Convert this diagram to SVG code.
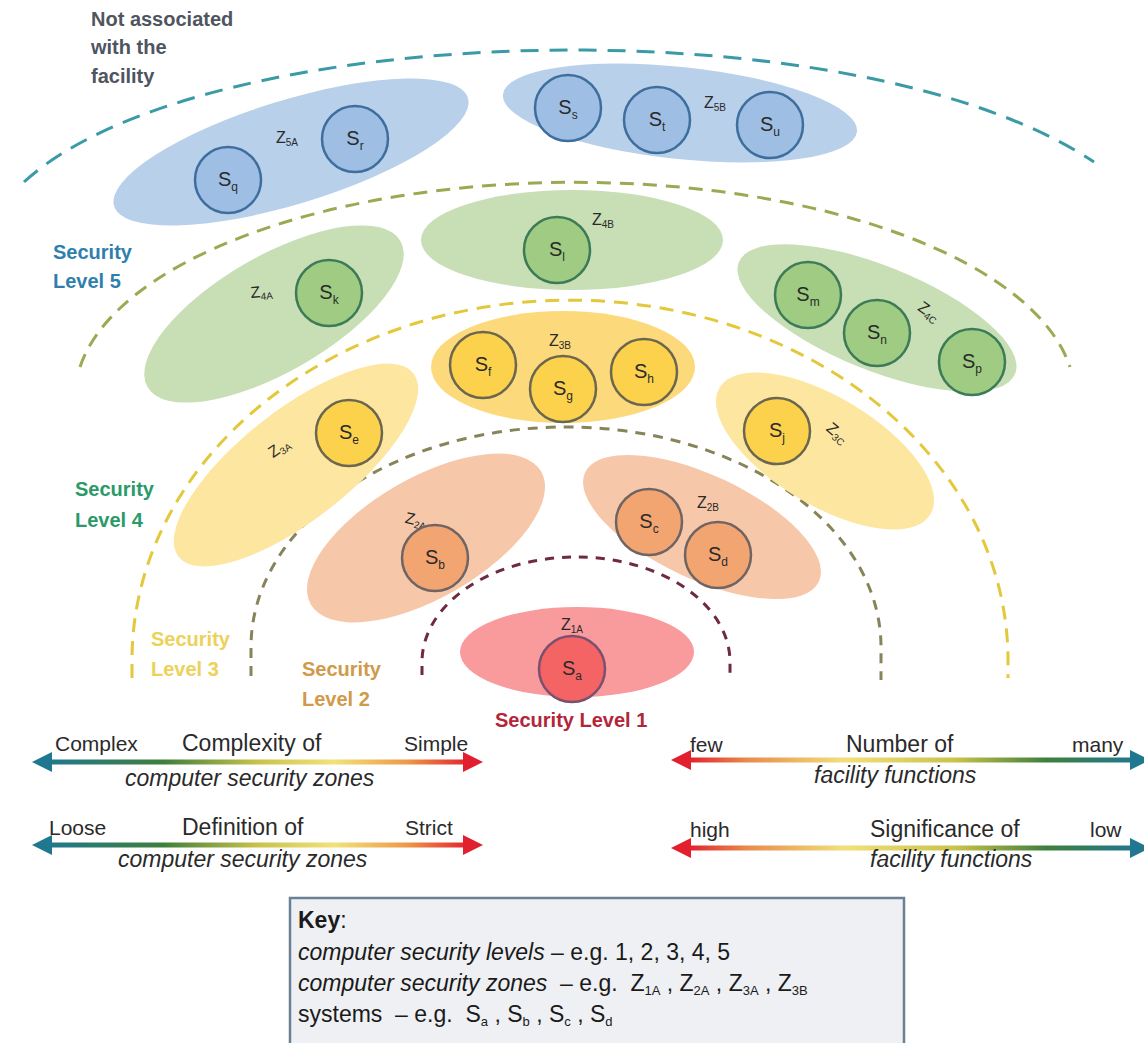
<svg xmlns="http://www.w3.org/2000/svg" width="1144" height="1043" viewBox="0 0 1144 1043">
<defs>
  <linearGradient id="gL" gradientUnits="userSpaceOnUse" x1="45" y1="0" x2="470" y2="0">
    <stop offset="0" stop-color="#1f7890"/>
    <stop offset="0.28" stop-color="#3f7f3c"/>
    <stop offset="0.5" stop-color="#c9c24a"/>
    <stop offset="0.68" stop-color="#f2e27a"/>
    <stop offset="0.85" stop-color="#ee9a48"/>
    <stop offset="1" stop-color="#e21f2e"/>
  </linearGradient>
  <linearGradient id="gR" gradientUnits="userSpaceOnUse" x1="688" y1="0" x2="1135" y2="0">
    <stop offset="0" stop-color="#e21f2e"/>
    <stop offset="0.13" stop-color="#e88a4a"/>
    <stop offset="0.35" stop-color="#f2e07a"/>
    <stop offset="0.6" stop-color="#c9c24a"/>
    <stop offset="0.8" stop-color="#3f7f3c"/>
    <stop offset="1" stop-color="#1f7890"/>
  </linearGradient>
</defs>
<style>
  text{font-family:"Liberation Sans",Arial,sans-serif;}
  .zb{fill:#b8d0ea} .cb{fill:#9ebfe3;stroke:#3e6e9e;stroke-width:2.5}
  .zg{fill:#c8deb5} .cg{fill:#9fcc82;stroke:#3c7a58;stroke-width:2.5}
  .zy{fill:#fde6a0} .zy2{fill:#fcd97a} .cy{fill:#fcd24c;stroke:#6b6650;stroke-width:2.5}
  .zo{fill:#f6c8a9} .co{fill:#f2a571;stroke:#6e6464;stroke-width:2.5}
  .zr{fill:#f99a9c} .cr{fill:#f46464;stroke:#7a5070;stroke-width:2.5}
  .s{font-size:20px;fill:#2a2a2a;text-anchor:middle}
  .sub{font-size:12px}
  .z{font-size:16px;fill:#2a2a2a;text-anchor:middle}
  .zs{font-size:10px}
  .arc{fill:none;stroke-width:3}
  .lvl{font-weight:bold;font-size:20px}
  .end{font-size:21px;fill:#2a2a2a}
  .ttl{font-size:23px;fill:#2a2a2a}
  .it{font-size:23px;fill:#2a2a2a;font-style:italic}
  .key{font-size:23px;fill:#1a1a1a}
  .ksub{font-size:13px}
</style>
<rect width="1144" height="1043" fill="#ffffff"/>

<!-- boundaries (security level arcs) -->
<g id="boundaries">
  <path class="arc" stroke="#3a9aa6" stroke-dasharray="18 11" d="M 24 182 C 200 20, 850 0, 1094 162"/>
  <path class="arc" stroke="#9aaa52" stroke-width="2.5" stroke-dasharray="14 9" d="M 80 367 A 500 215 0 0 1 1070 367"/>
  <path class="arc" stroke="#e3c83c" stroke-width="2.5" stroke-dasharray="14 9" d="M 132 678 L 132 660 A 438 360 0 0 1 1008 660 L 1008 678"/>
  <path class="arc" stroke="#87845a" stroke-dasharray="10 8" d="M 251 676 L 251 647 A 315 220 0 0 1 881 647 L 881 680"/>
  <path class="arc" stroke="#6f2a40" stroke-dasharray="9 8" d="M 422 675 L 422 662 A 154 105 0 0 1 730 662 L 730 675"/>
</g>

<!-- level labels -->
<g id="level-labels" class="lvl">
  <text x="91" y="26" fill="#4f5560">Not associated</text>
  <text x="91" y="54" fill="#4f5560">with the</text>
  <text x="91" y="83" fill="#4f5560">facility</text>
  <text x="53" y="259" fill="#2f7fae">Security</text>
  <text x="53" y="288" fill="#2f7fae">Level 5</text>
  <text x="75" y="496" fill="#2a9a6a">Security</text>
  <text x="75" y="527" fill="#2a9a6a">Level 4</text>
  <text x="151" y="646" fill="#ecd15a">Security</text>
  <text x="151" y="676" fill="#ecd15a">Level 3</text>
  <text x="302" y="676" fill="#d09a4a">Security</text>
  <text x="302" y="706" fill="#d09a4a">Level 2</text>
  <text x="495" y="727" fill="#b3263a">Security Level 1</text>
</g>

<!-- Level 5 zones -->
<g id="Z5A">
  <ellipse class="zb" cx="291" cy="152" rx="185" ry="52" transform="rotate(-17 291 152)"/>
  <text class="z" x="287" y="143">Z<tspan class="zs" dy="3">5A</tspan></text>
  <g id="Sq"><circle class="cb" cx="228" cy="180" r="33"/><text class="s" x="228" y="186">S<tspan class="sub" dy="5">q</tspan></text></g>
  <g id="Sr"><circle class="cb" cx="355" cy="139" r="33"/><text class="s" x="355" y="145">S<tspan class="sub" dy="5">r</tspan></text></g>
</g>
<g id="Z5B">
  <ellipse class="zb" cx="680" cy="113" rx="178" ry="46" transform="rotate(6 680 113)"/>
  <text class="z" x="715" y="108">Z<tspan class="zs" dy="3">5B</tspan></text>
  <g id="Ss"><circle class="cb" cx="568" cy="108" r="33"/><text class="s" x="568" y="114">S<tspan class="sub" dy="5">s</tspan></text></g>
  <g id="St"><circle class="cb" cx="657" cy="120" r="33"/><text class="s" x="657" y="126">S<tspan class="sub" dy="5">t</tspan></text></g>
  <g id="Su"><circle class="cb" cx="770" cy="125" r="33"/><text class="s" x="770" y="131">S<tspan class="sub" dy="5">u</tspan></text></g>
</g>

<!-- Level 4 zones -->
<g id="Z4A">
  <ellipse class="zg" cx="274" cy="314" rx="146" ry="58" transform="rotate(-30 274 314)"/>
  <text class="z" x="262" y="297" transform="rotate(-5 262 297)">Z<tspan class="zs" dy="3">4A</tspan></text>
  <g id="Sk"><circle class="cg" cx="329" cy="293" r="33"/><text class="s" x="329" y="299">S<tspan class="sub" dy="5">k</tspan></text></g>
</g>
<g id="Z4B">
  <ellipse class="zg" cx="572" cy="240" rx="151" ry="50"/>
  <text class="z" x="603" y="225">Z<tspan class="zs" dy="3">4B</tspan></text>
  <g id="Sl"><circle class="cg" cx="557" cy="250" r="33"/><text class="s" x="557" y="256">S<tspan class="sub" dy="5">l</tspan></text></g>
</g>
<g id="Z4C">
  <ellipse class="zg" cx="877" cy="318" rx="149" ry="52" transform="rotate(22 877 318)"/>
  <text class="z" x="926" y="316" transform="rotate(35 926 316)">Z<tspan class="zs" dy="3">4C</tspan></text>
  <g id="Sm"><circle class="cg" cx="808" cy="295" r="33"/><text class="s" x="808" y="301">S<tspan class="sub" dy="5">m</tspan></text></g>
  <g id="Sn"><circle class="cg" cx="877" cy="333" r="33"/><text class="s" x="877" y="339">S<tspan class="sub" dy="5">n</tspan></text></g>
  <g id="Sp"><circle class="cg" cx="972" cy="362" r="33"/><text class="s" x="972" y="368">S<tspan class="sub" dy="5">p</tspan></text></g>
</g>

<!-- Level 3 zones -->
<g id="Z3A">
  <ellipse class="zy" cx="296" cy="465" rx="149" ry="55" transform="rotate(-38 296 465)"/>
  <text class="z" x="282" y="452" transform="rotate(-35 282 452)">Z<tspan class="zs" dy="3">3A</tspan></text>
  <g id="Se"><circle class="cy" cx="349" cy="433" r="33"/><text class="s" x="349" y="439">S<tspan class="sub" dy="5">e</tspan></text></g>
</g>
<g id="Z3B">
  <ellipse class="zy2" cx="563" cy="367" rx="132" ry="56"/>
  <text class="z" x="560" y="346">Z<tspan class="zs" dy="3">3B</tspan></text>
  <g id="Sf"><circle class="cy" cx="483" cy="365" r="33"/><text class="s" x="483" y="371">S<tspan class="sub" dy="5">f</tspan></text></g>
  <g id="Sg"><circle class="cy" cx="563" cy="389" r="33"/><text class="s" x="563" y="395">S<tspan class="sub" dy="5">g</tspan></text></g>
  <g id="Sh"><circle class="cy" cx="644" cy="372" r="33"/><text class="s" x="644" y="378">S<tspan class="sub" dy="5">h</tspan></text></g>
</g>
<g id="Z3C">
  <ellipse class="zy" cx="825" cy="451" rx="123" ry="54" transform="rotate(31 825 451)"/>
  <text class="z" x="834" y="437" transform="rotate(40 834 437)">Z<tspan class="zs" dy="3">3C</tspan></text>
  <g id="Sj"><circle class="cy" cx="777" cy="431" r="33"/><text class="s" x="777" y="437">S<tspan class="sub" dy="5">j</tspan></text></g>
</g>

<!-- Level 2 zones -->
<g id="Z2A">
  <ellipse class="zo" cx="426" cy="538" rx="133" ry="60" transform="rotate(-30 426 538)"/>
  <text class="z" x="415" y="525" transform="rotate(12 415 525)">Z<tspan class="zs" dy="3">2A</tspan></text>
  <g id="Sb"><circle class="co" cx="435" cy="558" r="33"/><text class="s" x="435" y="564">S<tspan class="sub" dy="5">b</tspan></text></g>
</g>
<g id="Z2B">
  <ellipse class="zo" cx="702" cy="527" rx="129" ry="52" transform="rotate(25 702 527)"/>
  <text class="z" x="708" y="508">Z<tspan class="zs" dy="3">2B</tspan></text>
  <g id="Sc"><circle class="co" cx="649" cy="522" r="33"/><text class="s" x="649" y="528">S<tspan class="sub" dy="5">c</tspan></text></g>
  <g id="Sd"><circle class="co" cx="718" cy="555" r="33"/><text class="s" x="718" y="561">S<tspan class="sub" dy="5">d</tspan></text></g>
</g>

<!-- Level 1 zone -->
<g id="Z1A">
  <ellipse class="zr" cx="577" cy="652" rx="117" ry="45"/>
  <text class="z" x="572" y="630">Z<tspan class="zs" dy="3">1A</tspan></text>
  <g id="Sa"><circle class="cr" cx="572" cy="669" r="33"/><text class="s" x="572" y="675">S<tspan class="sub" dy="5">a</tspan></text></g>
</g>

<!-- scale arrows -->
<g id="connectors">
  <line x1="48" y1="762" x2="468" y2="762" stroke="url(#gL)" stroke-width="5"/>
  <polygon points="32,762 52,752 52,772" fill="#1f7890"/>
  <polygon points="483,762 463,752 463,772" fill="#e21f2e"/>
  <line x1="48" y1="845" x2="468" y2="845" stroke="url(#gL)" stroke-width="5"/>
  <polygon points="32,845 52,835 52,855" fill="#1f7890"/>
  <polygon points="483,845 463,835 463,855" fill="#e21f2e"/>
  <line x1="688" y1="760" x2="1135" y2="760" stroke="url(#gR)" stroke-width="5"/>
  <polygon points="671,760 691,750 691,770" fill="#e21f2e"/>
  <polygon points="1150,760 1130,750 1130,770" fill="#1f7890"/>
  <line x1="688" y1="848" x2="1135" y2="848" stroke="url(#gR)" stroke-width="5"/>
  <polygon points="671,848 691,838 691,858" fill="#e21f2e"/>
  <polygon points="1150,848 1130,838 1130,858" fill="#1f7890"/>
</g>
<g id="scale-labels">
  <text class="end" x="55" y="751">Complex</text>
  <text class="ttl" x="182" y="751">Complexity of</text>
  <text class="end" x="404" y="751">Simple</text>
  <text class="it" x="125" y="786">computer security zones</text>
  <text class="end" x="49" y="835">Loose</text>
  <text class="ttl" x="182" y="835">Definition of</text>
  <text class="end" x="405" y="835">Strict</text>
  <text class="it" x="118" y="867">computer security zones</text>
  <text class="end" x="690" y="752">few</text>
  <text class="ttl" x="846" y="752">Number of</text>
  <text class="end" x="1072" y="752">many</text>
  <text class="it" x="814" y="783">facility functions</text>
  <text class="end" x="690" y="837">high</text>
  <text class="ttl" x="870" y="837">Significance of</text>
  <text class="end" x="1090" y="837">low</text>
  <text class="it" x="870" y="867">facility functions</text>
</g>

<!-- key -->
<g id="key">
  <rect x="290" y="898" width="614" height="160" fill="#eef0f3" stroke="#6b7f95" stroke-width="2.5"/>
  <text class="key" x="298" y="928"><tspan font-weight="bold">Key</tspan>:</text>
  <text class="key" x="298" y="960"><tspan font-style="italic">computer security levels</tspan> – e.g. 1, 2, 3, 4, 5</text>
  <text class="key" x="298" y="991" xml:space="preserve"><tspan font-style="italic">computer security zones</tspan>  – e.g.  Z<tspan class="ksub" dy="4">1A</tspan><tspan dy="-4"> , Z</tspan><tspan class="ksub" dy="4">2A</tspan><tspan dy="-4"> , Z</tspan><tspan class="ksub" dy="4">3A</tspan><tspan dy="-4"> , Z</tspan><tspan class="ksub" dy="4">3B</tspan></text>
  <text class="key" x="298" y="1022" xml:space="preserve">systems  – e.g.  S<tspan class="ksub" dy="4">a</tspan><tspan dy="-4"> , S</tspan><tspan class="ksub" dy="4">b</tspan><tspan dy="-4"> , S</tspan><tspan class="ksub" dy="4">c</tspan><tspan dy="-4"> , S</tspan><tspan class="ksub" dy="4">d</tspan></text>
</g>
</svg>
